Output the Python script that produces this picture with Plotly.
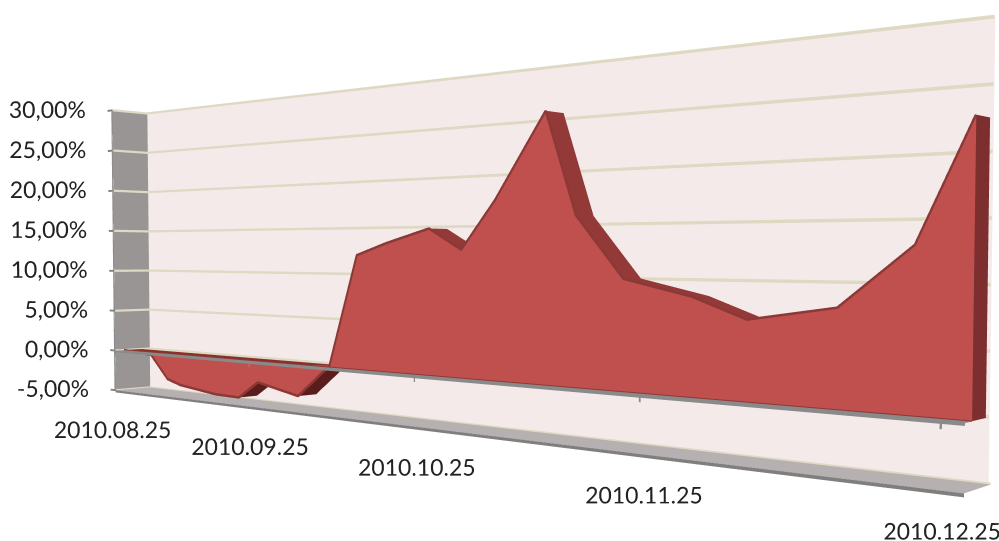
import pandas as pd
import plotly.graph_objects as go

# ---- data
dates = ["2010-08-25","2010-09-01","2010-09-05","2010-09-08","2010-09-16","2010-09-21","2010-09-25",
         "2010-10-03","2010-10-09","2010-10-14","2010-10-19","2010-10-26","2010-10-31","2010-11-05",
         "2010-11-12","2010-11-16","2010-11-22","2010-11-30","2010-12-06","2010-12-15","2010-12-22","2010-12-27"]
values = [0.0,-0.3,-3.1,-3.65,-4.27,-4.33,-2.37,-3.43,0.19,11.9,13.1,14.5,12.4,17.06,24.9,15.4,9.8,8.4,6.66,7.82,12.57,21.7]
x_tick_dates = ["2010-08-25","2010-09-25","2010-10-25","2010-11-25","2010-12-25"]
x_tick_text = ["2010.08.25","2010.09.25","2010.10.25","2010.11.25","2010.12.25"]
x_label_z = [-10.05,-9.5,-9.0,-8.45,-7.9]
x_label_nudge = [-1.0,0.0,0.3,0.5,0.2]
z_tick_vals = [-5,0,5,10,15,20,25,30]
z_tick_text = ["-5,00%","0,00%","5,00%","10,00%","15,00%","20,00%","25,00%","30,00%"]

start = pd.Timestamp(dates[0])
t = [(pd.Timestamp(d)-start).days for d in dates]
xt = [(pd.Timestamp(d)-start).days for d in x_tick_dates]
tend = t[-1]

# ---- scene geometry (depth d runs 0..1 and leans slightly toward +x)
W = 88.6/124; SHEAR = 2.30/W; DEPTH = 3.06; H = 35.0
YMAX = 1.7
xmin, xmax = -6.0, tend+SHEAR+1.0
zr0, zr1 = -11.0, 31.0
F1, F2 = 0.25, 0.75
WALL_D, WALL_X, WALL_DROP = 0.567, -1.5, 0.4   # the back wall recedes a little further at its right end
def X(ti, d): return ti + SHEAR*d
def wall(ti, inset=0.0):
    f = ti/tend
    d = 1 + WALL_D*f - inset
    return (X(ti, d) + WALL_X*f, d)

cx, cy, cz = (xmin+xmax)/2*W, DEPTH*YMAX/2, (zr0+zr1)/2
eye_w = (77.23, -55.11, 11.6)
look = (-0.4059, 0.9139, -0.0191)
L = 65.0
eye = [(eye_w[0]-cx)/H, (eye_w[1]-cy)/H, (eye_w[2]-cz)/H]
ctr = [eye[i]+L*look[i]/H for i in range(3)]

fig = go.Figure()
NOLIGHT = dict(ambient=1, diffuse=0, specular=0, roughness=1, fresnel=0)

def quads(qs, color):
    xs, ys, zs, i, j, k = [], [], [], [], [], []
    for q in qs:
        n = len(xs)
        for (a, b, c) in q:
            xs.append(a); ys.append(b); zs.append(c)
        i += [n, n]; j += [n+1, n+2]; k += [n+2, n+3]
    fig.add_trace(go.Mesh3d(x=xs, y=ys, z=zs, i=i, j=j, k=k, color=color, flatshading=True,
                            lighting=NOLIGHT, hoverinfo="skip", showscale=False))

def path(xs, ys, zs, color, width):
    fig.add_trace(go.Scatter3d(x=xs, y=ys, z=zs, mode="lines", line=dict(color=color, width=width),
                               hoverinfo="skip", showlegend=False))

def labels(xs, ys, zs, text, pos):
    fig.add_trace(go.Scatter3d(x=xs, y=ys, z=zs, mode="text", text=text, textposition=pos,
                               textfont=dict(family="Lato", size=23, color="#222222"),
                               hoverinfo="skip", showlegend=False))

zlo, zhi = z_tick_vals[0], z_tick_vals[-1]
# walls and floor
(wx0, wd0), (wx1, wd1) = wall(0), wall(tend)
quads([[(wx0,wd0,zlo-0.6),(wx1,wd1,zlo-0.6),(wx1,wd1,zhi-WALL_DROP),(wx0,wd0,zhi)]], "#F5EAEA")
quads([[(X(0,0),0,zlo),(X(0,1),1,zlo),(X(0,1),1,zhi),(X(0,0),0,zhi)]], "#9A9595")
quads([[(X(0,0),0,zlo),(X(tend,0),0,zlo),(X(tend,1),1,zlo),(X(0,1),1,zlo)]], "#B6B0B0")
# grid strips lying on the walls
G = 0.14
(gx0, gd0), (gx1, gd1) = wall(0, 0.03), wall(tend, 0.03)
quads([[(gx0,gd0,v-G),(gx1,gd1,v-G-WALL_DROP),(gx1,gd1,v+G-WALL_DROP),(gx0,gd0,v+G)] for v in z_tick_vals[1:]], "#DDD9C3")
quads([[(X(0.1,0),0,v-G),(X(0.1,1),1,v-G),(X(0.1,1),1,v+G),(X(0.1,0),0,v+G)] for v in z_tick_vals], "#DDD9C3")
quads([[(X(0,0.97),0.97,zlo),(X(tend,0.97),0.97,zlo),(X(tend,0.97),0.97,zlo+G),(X(0,0.97),0.97,zlo+G)]], "#DDD9C3")
# tick marks and edges
quads([[(X(0,0),0,v-0.12),(X(0,0),0,v+0.12),(-1.3,0,v+0.12),(-1.3,0,v-0.12)] for v in z_tick_vals], "#7F7F7F")
quads([[(X(0,0),0,zlo),(X(tend,0),0,zlo),(X(tend,0),0,zlo-0.28),(X(0,0),0,zlo-0.28)]], "#7F7F7F")
quads([[(-0.3,0,zlo),(0,0,zlo),(0,0,zhi),(-0.3,0,zhi)]], "#8C8C8C")
# horizontal axis plate at zero
quads([[(X(0,0),0,-0.02),(X(tend,0),0,-0.02),(X(tend,F1),F1,-0.02),(X(0,F1),F1,-0.02)],
       [(X(tend,0),0,-0.02),(X(tend,1),1,-0.02),(X(tend,F2),F2,-0.02),(X(tend,F1),F1,-0.02)]], "#8A8A8A")
quads([[(0,0,-0.22),(tend,0,-0.22),(tend,0,0),(0,0,0)]], "#8A8A8A")
quads([[(tk-0.1,0,0),(tk+0.1,0,0),(tk+0.1,0,-0.6),(tk-0.1,0,-0.6)] for tk in xt], "#8A8A8A")
# series body
n = len(t)
quads([[(X(t[a],F1),F1,0),(X(t[a+1],F1),F1,0),(X(t[a+1],F2),F2,0),(X(t[a],F2),F2,0)] for a in range(n-1)], "#8C2E2C")
quads([[(X(t[a],F1),F1,values[a]),(X(t[a+1],F1),F1,values[a+1]),(X(t[a+1],F2),F2,values[a+1]),(X(t[a],F2),F2,values[a])]
       for a in range(n-1) if values[a] >= 0 and values[a+1] >= 0], "#933A38")
quads([[(X(t[a],F1),F1,values[a]),(X(t[a+1],F1),F1,values[a+1]),(X(t[a+1],F2),F2,values[a+1]),(X(t[a],F2),F2,values[a])]
       for a in range(n-1) if values[a] < 0 or values[a+1] < 0], "#5A1D1B")
quads([[(X(tend,F1),F1,0),(X(tend,F2),F2,0),(X(tend,F2),F2,values[-1]),(X(tend,F1),F1,values[-1])]], "#7C2F2E")
quads([[(X(t[a],F1),F1,0),(X(t[a+1],F1),F1,0),(X(t[a+1],F1),F1,values[a+1]),(X(t[a],F1),F1,values[a])] for a in range(n-1)], "#C0504D")
path([X(ti,F1-0.01) for ti in t],[F1-0.01]*n,values,"#8C3836",5)
path([X(0,F1-0.01),X(tend,F1-0.01)],[F1-0.01]*2,[0,0],"#8C3836",3)
# tick labels
labels([-1.2]*len(z_tick_vals),[0]*len(z_tick_vals),z_tick_vals,z_tick_text,"middle left")
labels([a+b for a, b in zip(xt, x_label_nudge)],[0]*len(xt),x_label_z,x_tick_text,"middle center")

hidden = dict(showgrid=False, zeroline=False, showline=False, showbackground=False, showspikes=False,
              title="", showticklabels=False, ticks="")
fig.update_layout(
    width=999, height=541, margin=dict(l=0, r=0, t=0, b=0), paper_bgcolor="white", showlegend=False,
    scene=dict(
        domain=dict(x=[0,1], y=[0,1]),
        xaxis=dict(hidden, range=[xmin,xmax]),
        yaxis=dict(hidden, range=[0,YMAX]),
        zaxis=dict(hidden, range=[zr0,zr1]),
        aspectmode="manual",
        aspectratio=dict(x=(xmax-xmin)*W/H, y=DEPTH*YMAX/H, z=(zr1-zr0)/H),
        camera=dict(eye=dict(x=eye[0],y=eye[1],z=eye[2]), center=dict(x=ctr[0],y=ctr[1],z=ctr[2]),
                    up=dict(x=0,y=0,z=1), projection=dict(type="perspective")),
    ),
)
fig.write_html("out.html", post_script="document.body.style.margin='0';", config=dict(displayModeBar=False))
